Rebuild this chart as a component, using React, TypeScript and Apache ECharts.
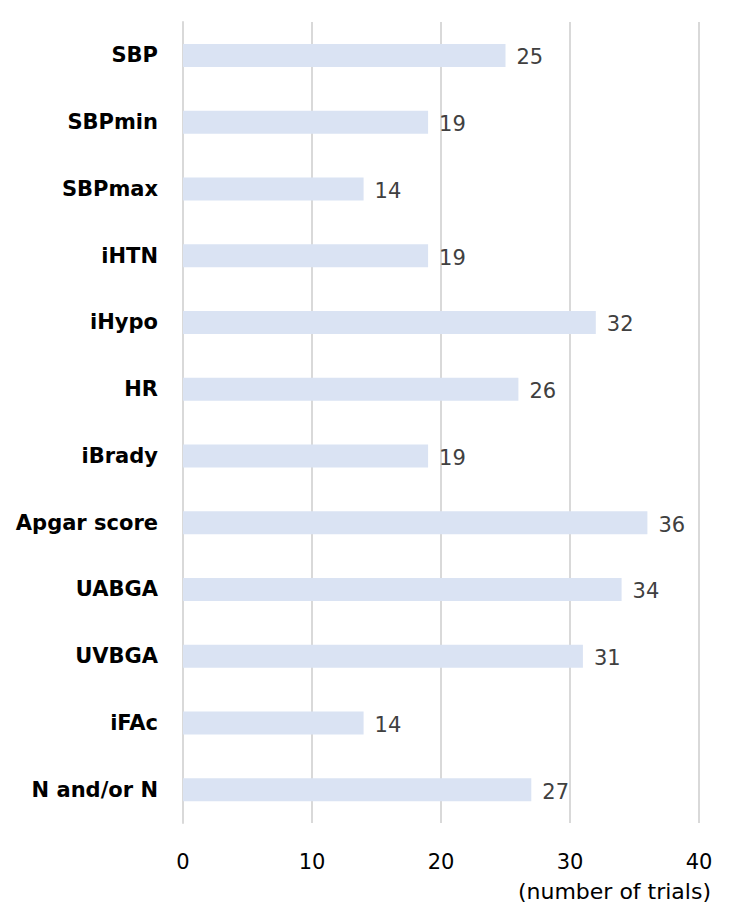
import React, { useEffect, useRef } from "react";
import * as echarts from "echarts";

const categories = [
  "SBP",
  "SBPmin",
  "SBPmax",
  "iHTN",
  "iHypo",
  "HR",
  "iBrady",
  "Apgar score",
  "UABGA",
  "UVBGA",
  "iFAc",
  "N and/or N",
];
const trialCounts = [25, 19, 14, 19, 32, 26, 19, 36, 34, 31, 14, 27];
const xTicks = [0, 10, 20, 30, 40];

const FONT = "'DejaVu Sans', sans-serif";

const App: React.FC = () => {
  const chartRef = useRef<HTMLDivElement>(null);

  useEffect(() => {
    const chart = echarts.init(chartRef.current!, null, { renderer: "svg" });
    const options = {
      animation: false,
      backgroundColor: "#ffffff",
      grid: { left: 183, right: 36, top: 22, bottom: 99 },
      xAxis: {
        type: "value",
        min: xTicks[0],
        max: xTicks[xTicks.length - 1],
        interval: 10,
        axisLine: { show: false },
        axisTick: { show: false },
        splitLine: { lineStyle: { color: "#d9d9d9", width: 2 } },
        axisLabel: {
          color: "#000000",
          fontFamily: FONT,
          fontSize: 21,
          margin: 28,
        },
      },
      yAxis: {
        type: "category",
        inverse: true,
        data: categories,
        axisLine: { show: true, lineStyle: { color: "#d9d9d9", width: 2 } },
        axisTick: { show: false },
        axisLabel: {
          color: "#000000",
          fontFamily: FONT,
          fontSize: 21,
          fontWeight: "bold",
          margin: 25,
          padding: [4, 0, 0, 0],
        },
      },
      graphic: [
        {
          type: "text",
          right: 24,
          top: 880,
          style: {
            text: "(number of trials)",
            fill: "#000000",
            font: `22px ${FONT}`,
          },
        },
      ],
      series: [
        {
          type: "bar",
          data: trialCounts,
          barWidth: 23,
          itemStyle: { color: "#dae3f3" },
          label: {
            show: true,
            position: "right",
            distance: 11,
            offset: [0, 2],
            color: "#404040",
            fontFamily: FONT,
            fontSize: 21,
          },
        },
      ],
    };
    chart.setOption(options);

    return () => {
      chart.dispose();
    };
  }, []);

  return <div ref={chartRef} style={{ width: "735px", height: "922px", margin: -8 }}></div>;
};

export default App;
